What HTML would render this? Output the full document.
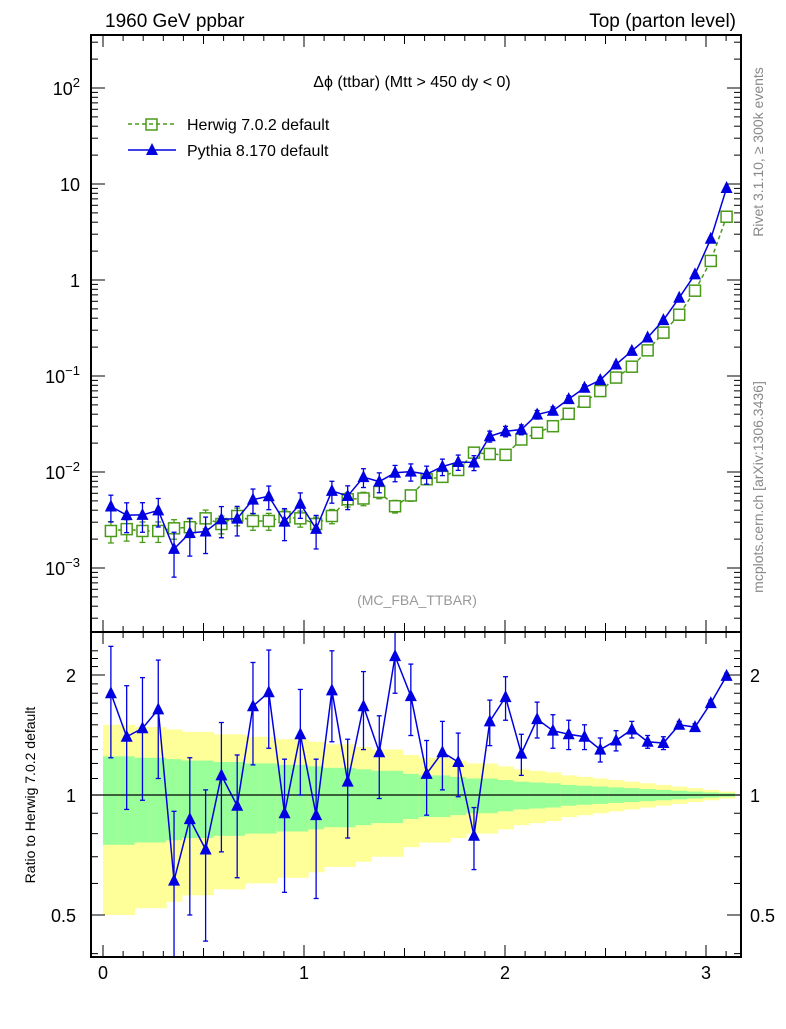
<!DOCTYPE html>
<html><head><meta charset="utf-8"><style>
body{margin:0;background:#fff;width:786px;height:1024px;overflow:hidden}
svg{font-family:"Liberation Sans",sans-serif}
</style></head><body>
<svg id="c" width="786" height="1024" xmlns="http://www.w3.org/2000/svg">
<text x="105" y="27" font-size="19">1960 GeV ppbar</text>
<text x="736" y="27" font-size="19" text-anchor="end">Top (parton level)</text>
<text x="412" y="87" font-size="16" text-anchor="middle">Δϕ (ttbar) (Mtt &gt; 450 dy &lt; 0)</text>
<text x="417" y="605" font-size="14" fill="#999" text-anchor="middle">(MC_FBA_TTBAR)</text>
<text transform="translate(763,152) rotate(-90)" font-size="14" fill="#888" text-anchor="middle">Rivet 3.1.10, ≥ 300k events</text>
<text transform="translate(763,487) rotate(-90)" font-size="14" fill="#888" text-anchor="middle">mcplots.cern.ch [arXiv:1306.3436]</text>
<text transform="translate(35,795) rotate(-90)" font-size="14" text-anchor="middle">Ratio to Herwig 7.0.2 default</text>
<g>
<g>
<line x1="128" y1="124" x2="176" y2="124" stroke="#4a9a1a" stroke-width="1.5" stroke-dasharray="4,3"/>
<rect x="146" y="119" width="11" height="11" fill="none" stroke="#4a9a1a" stroke-width="1.5"/>
<text x="187" y="130" font-size="16">Herwig 7.0.2 default</text></g>
<g>
<line x1="128" y1="150" x2="176" y2="150" stroke="#0000e0" stroke-width="1.5"/>
<polygon points="152,143 158,155 146,155" fill="#0000e0"/>
<text x="187" y="156" font-size="16">Pythia 8.170 default</text></g>
</g>
<g id="main"></g><g id="ratio"></g>
</svg>
<script>
const herwig=[0.00243,0.00254,0.00243,0.00243,0.00259,0.00266,0.00329,0.00287,0.00348,0.00309,0.00309,0.00338,0.00329,0.00287,0.00348,0.0052,0.0053,0.0062,0.0044,0.0057,0.0084,0.0089,0.0105,0.0159,0.0154,0.0151,0.0218,0.0256,0.030,0.0404,0.0539,0.0697,0.0963,0.125,0.185,0.283,0.435,0.774,1.58,4.56];
const herwigRelErr=[0.25,0.25,0.24,0.24,0.23,0.22,0.22,0.21,0.21,0.2,0.2,0.19,0.19,0.18,0.17,0.17,0.16,0.15,0.15,0.13,0.12,0.12,0.11,0.1,0.1,0.09,0.08,0.075,0.07,0.06,0.055,0.05,0.045,0.04,0.035,0.03,0.025,0.02,0.015,0.01];
const ratio=[1.80,1.40,1.47,1.64,0.61,0.87,0.73,1.12,0.94,1.67,1.81,0.90,1.42,0.89,1.83,1.08,1.67,1.28,2.23,1.77,1.13,1.28,1.21,0.79,1.53,1.76,1.27,1.55,1.45,1.42,1.40,1.30,1.37,1.46,1.36,1.35,1.50,1.48,1.70,1.99];
const ratioErr=[0.56,0.48,0.5,0.54,0.3,0.37,0.3,0.4,0.32,0.48,0.5,0.33,0.42,0.34,0.47,0.3,0.37,0.3,0.43,0.36,0.24,0.25,0.22,0.14,0.2,0.22,0.15,0.16,0.14,0.12,0.1,0.09,0.08,0.07,0.05,0.05,0.03,0.03,0.03,0.03];
const xTickLabels=["0","1","2","3"];
const mainYTicks=[-3,-2,-1,0,1,2];
const ratioYTicks=[0.5,1,2];
const NB=40,XMAX=Math.PI;
const NS="http://www.w3.org/2000/svg";
const L=91,R=741,MT=35,MB=632,RT=632,RB=957;
const X=v=>103+v*201;
const YM=v=>280-96*Math.log10(v);
const YR=v=>795-120*Math.log2(v);
function el(p,t,a){const e=document.createElementNS(NS,t);for(const k in a)e.setAttribute(k,a[k]);p.appendChild(e);return e;}
const main=document.getElementById('main'),rat=document.getElementById('ratio');
const cx=i=>(i+0.5)*XMAX/NB;
const pythia=herwig.map((h,i)=>h*ratio[i]);
// ratio bands
for(let i=0;i<NB;i++){
  const x0=X(i*XMAX/NB),x1=X((i+1)*XMAX/NB);
  const e=herwigRelErr[i];
  const y1=Math.max(RT,YR(1+2*e)),y2=Math.min(RB,YR(Math.max(0.3,1-2*e)));
  const b=el(rat,'rect',{x:x0,y:y1,width:x1-x0+0.5,height:y2-y1,fill:'#ffff99'});
  
  
  const g=el(rat,'rect',{x:x0,y:YR(1+e),width:x1-x0+0.5,height:YR(1-e)-YR(1+e),fill:'#99ff99'});
  
  
}
el(rat,'line',{x1:L,x2:R,y1:YR(1),y2:YR(1),stroke:'#000','stroke-width':1.3});
// clip
const defs=el(document.getElementById('c'),'defs',{});
const cp=el(defs,'clipPath',{id:'cr'});el(cp,'rect',{x:L,y:RT,width:R-L,height:RB-RT});
const cpm=el(defs,'clipPath',{id:'cm'});el(cpm,'rect',{x:L,y:MT,width:R-L,height:MB-MT});
const rg=el(rat,'g',{'clip-path':'url(#cr)'});
const mg=el(main,'g',{'clip-path':'url(#cm)'});
// herwig main
let hp=herwig.map((v,i)=>X(cx(i))+','+YM(v)).join(' ');
el(mg,'polyline',{points:hp,fill:'none',stroke:'#4a9a1a','stroke-width':1.5,'stroke-dasharray':'4,3'});
herwig.forEach((v,i)=>{
  const x=X(cx(i)),e=v*herwigRelErr[i];
  const g=el(mg,'g',{});
  
  
  el(g,'line',{x1:x,x2:x,y1:YM(v+e),y2:YM(v-e),stroke:'#4a9a1a','stroke-width':1.3});
  el(g,'line',{x1:x-3,x2:x+3,y1:YM(v+e),y2:YM(v+e),stroke:'#4a9a1a','stroke-width':1.3});
  el(g,'line',{x1:x-3,x2:x+3,y1:YM(v-e),y2:YM(v-e),stroke:'#4a9a1a','stroke-width':1.3});
  el(g,'rect',{x:x-5.5,y:YM(v)-5.5,width:11,height:11,fill:'#fff',stroke:'#4a9a1a','stroke-width':1.5});
});
// pythia main
el(mg,'polyline',{points:pythia.map((v,i)=>X(cx(i))+','+YM(v)).join(' '),fill:'none',stroke:'#0000e0','stroke-width':1.5});
function tri(g,x,y){el(g,'polygon',{points:`${x},${y-7} ${x+6},${y+5} ${x-6},${y+5}`,fill:'#0000e0'});}
function ebar(g,x,y1,y2){
  el(g,'line',{x1:x,x2:x,y1:y1,y2:y2,stroke:'#0000e0','stroke-width':1.3});
  el(g,'line',{x1:x-2.5,x2:x+2.5,y1:y1,y2:y1,stroke:'#0000e0','stroke-width':1.3});
  el(g,'line',{x1:x-2.5,x2:x+2.5,y1:y2,y2:y2,stroke:'#0000e0','stroke-width':1.3});
}
pythia.forEach((v,i)=>{
  const x=X(cx(i)),e=herwig[i]*ratioErr[i];
  const g=el(mg,'g',{});
  
  
  ebar(g,x,YM(v+e),YM(Math.max(v-e,v*0.05)));
  tri(g,x,YM(v));
});
// ratio pythia
el(rg,'polyline',{points:ratio.map((v,i)=>X(cx(i))+','+YR(v)).join(' '),fill:'none',stroke:'#0000e0','stroke-width':1.5});
ratio.forEach((v,i)=>{
  const x=X(cx(i)),e=ratioErr[i];
  const g=el(rg,'g',{});
  
  
  ebar(g,x,YR(v+e),YR(Math.max(v-e,0.2)));
  tri(g,x,YR(v));
});
// frames
[[MT,MB],[RT,RB]].forEach(([t,b],k)=>{
  const f=el(document.getElementById('c'),'rect',{x:L,y:t,width:R-L,height:b-t,fill:'none',stroke:'#000','stroke-width':2});
  
  
  for(let j=0;j<=32;j++){const v=j*0.1;const x=X(v);if(x<L||x>R)continue;
    const len=j%10==0?12:(j%5==0?9:6);
    el(document.getElementById('c'),'line',{x1:x,x2:x,y1:b,y2:b-len,stroke:'#000','stroke-width':1});
    el(document.getElementById('c'),'line',{x1:x,x2:x,y1:t,y2:t+len,stroke:'#000','stroke-width':1});}
});
const svg=document.getElementById('c');
xTickLabels.forEach((s,i)=>{const t=el(svg,'text',{x:X(+s),y:979,'font-size':18,'text-anchor':'middle'});t.textContent=s;
  });
// main y ticks
for(let d=-4;d<=2;d++){for(let m=1;m<10;m++){const y=YM(m*Math.pow(10,d));if(y<MT||y>MB)continue;const len=m==1?14:7;
  el(svg,'line',{x1:L,x2:L+len,y1:y,y2:y,stroke:'#000'});el(svg,'line',{x1:R,x2:R-len,y1:y,y2:y,stroke:'#000'});}}
mainYTicks.forEach(d=>{const y=YM(Math.pow(10,d));
  const t=el(svg,'text',{x:80,y:y+7,'font-size':18,'text-anchor':'end'});
  
  if(d==0)t.textContent='1';else if(d==1)t.textContent='10';
  else{t.textContent='10';const s=el(t,'tspan',{dy:-8,'font-size':13});s.textContent=String(d).replace('-','−');}
});
// ratio y ticks
for(let v=0.4;v<=2.31;v+=0.1){const y=YR(v);if(y<RT||y>RB)continue;const big=[0.5,1,2].some(q=>Math.abs(q-v)<1e-6);const len=big?14:7;
  el(svg,'line',{x1:L,x2:L+len,y1:y,y2:y,stroke:'#000'});el(svg,'line',{x1:R,x2:R-len,y1:y,y2:y,stroke:'#000'});}
ratioYTicks.forEach(v=>{const y=YR(v);
  const t=el(svg,'text',{x:76,y:y+7,'font-size':18,'text-anchor':'end'});t.textContent=String(v);
  
  const t2=el(svg,'text',{x:750,y:y+7,'font-size':18});t2.textContent=String(v);
  });
</script>
</body></html>
